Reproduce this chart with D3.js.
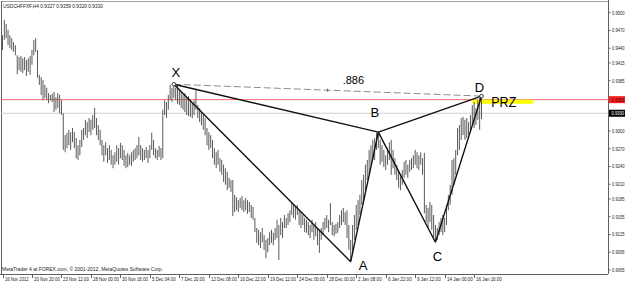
<!DOCTYPE html>
<meta charset="utf-8">
<script src="https://d3js.org/d3.v7.min.js"></script>
<style>
  body { margin: 0; background: white; }
  text { font-family: "Liberation Sans", Arial, sans-serif; }
  .tiny { font-size: 6px; fill: #222; }
</style>
<div id="main_chart"></div>
<script>
// H4 bars, high and low per bar
var highs = [
  0.9462,0.9488,0.9481,0.9471,0.9462,0.9457,0.9450,0.9445,0.9428,0.9425,
  0.9427,0.9423,0.9425,0.9420,0.9423,0.9427,0.9437,0.9454,0.9457,0.9437,
  0.9395,0.9391,0.9386,0.9378,0.9373,0.9364,0.9361,0.9363,0.9366,0.9357,
  0.9364,0.9361,0.9352,0.9330,0.9293,0.9297,0.9302,0.9298,0.9305,0.9298,
  0.9288,0.9276,0.9285,0.9302,0.9305,0.9319,0.9315,0.9322,0.9319,0.9327,
  0.9339,0.9322,0.9310,0.9302,0.9285,0.9276,0.9281,0.9271,0.9276,0.9268,
  0.9259,0.9264,0.9276,0.9271,0.9280,0.9276,0.9268,0.9259,0.9263,0.9259,
  0.9264,0.9268,0.9271,0.9276,0.9290,0.9276,0.9271,0.9268,0.9273,0.9268,
  0.9276,0.9297,0.9285,0.9271,0.9268,0.9275,0.9271,0.9336,0.9352,0.9349,
  0.9361,0.9378,0.9373,0.9379,0.9373,0.9376,0.9369,0.9366,0.9361,0.9364,
  0.9356,0.9359,0.9352,0.9347,0.9352,0.9369,0.9344,0.9339,0.9332,0.9327,
  0.9322,0.9305,0.9298,0.9293,0.9285,0.9271,0.9264,0.9268,0.9254,0.9251,
  0.9243,0.9237,0.9231,0.9221,0.9217,0.9217,0.9192,0.9188,0.9183,0.9187,
  0.9190,0.9183,0.9187,0.9183,0.9180,0.9175,0.9172,0.9153,0.9136,0.9133,
  0.9129,0.9136,0.9124,0.9116,0.9119,0.9129,0.9133,0.9128,0.9136,0.9150,
  0.9141,0.9153,0.9146,0.9158,0.9153,0.9161,0.9166,0.9178,0.9175,0.9172,
  0.9175,0.9166,0.9163,0.9158,0.9153,0.9150,0.9146,0.9141,0.9150,0.9141,
  0.9146,0.9136,0.9133,0.9136,0.9146,0.9153,0.9158,0.9150,0.9178,0.9146,
  0.9141,0.9143,0.9146,0.9158,0.9166,0.9170,0.9163,0.9166,0.9141,0.9116,
  0.9141,0.9158,0.9175,0.9183,0.9192,0.9217,0.9226,0.9243,0.9251,0.9268,
  0.9276,0.9285,0.9288,0.9297,0.9298,0.9285,0.9276,0.9268,0.9259,0.9271,
  0.9281,0.9285,0.9268,0.9254,0.9243,0.9231,0.9226,0.9234,0.9248,0.9251,
  0.9243,0.9251,0.9254,0.9259,0.9268,0.9264,0.9259,0.9264,0.9254,0.9263,
  0.9175,0.9170,0.9180,0.9175,0.9158,0.9141,0.9136,0.9146,0.9153,0.9158,
  0.9153,0.9175,0.9192,0.9209,0.9251,0.9254,0.9268,0.9305,0.9310,0.9322,
  0.9324,0.9319,0.9322,0.9315,0.9327,0.9344,0.9349,0.9339,0.9352,0.9356,
  0.9359
];
var lows = [
  0.9437,0.9454,0.9457,0.9445,0.9440,0.9437,0.9434,0.9428,0.9396,0.9403,
  0.9400,0.9398,0.9403,0.9393,0.9400,0.9395,0.9412,0.9428,0.9434,0.9390,
  0.9378,0.9361,0.9352,0.9356,0.9352,0.9347,0.9352,0.9349,0.9332,0.9336,
  0.9339,0.9330,0.9327,0.9268,0.9264,0.9271,0.9276,0.9268,0.9281,0.9271,
  0.9254,0.9251,0.9259,0.9273,0.9285,0.9293,0.9288,0.9298,0.9293,0.9302,
  0.9305,0.9293,0.9285,0.9276,0.9259,0.9248,0.9259,0.9246,0.9251,0.9243,
  0.9237,0.9243,0.9248,0.9243,0.9254,0.9251,0.9241,0.9237,0.9239,0.9243,
  0.9241,0.9248,0.9251,0.9254,0.9259,0.9251,0.9248,0.9251,0.9254,0.9246,
  0.9254,0.9268,0.9259,0.9254,0.9251,0.9256,0.9251,0.9254,0.9327,0.9322,
  0.9336,0.9352,0.9349,0.9356,0.9352,0.9346,0.9344,0.9339,0.9336,0.9332,
  0.9327,0.9325,0.9324,0.9322,0.9327,0.9336,0.9322,0.9315,0.9310,0.9302,
  0.9293,0.9276,0.9268,0.9271,0.9254,0.9243,0.9237,0.9243,0.9231,0.9226,
  0.9214,0.9209,0.9200,0.9204,0.9197,0.9156,0.9163,0.9166,0.9163,0.9170,
  0.9166,0.9163,0.9166,0.9160,0.9163,0.9153,0.9150,0.9129,0.9111,0.9107,
  0.9102,0.9112,0.9099,0.9085,0.9095,0.9107,0.9111,0.9107,0.9116,0.9119,
  0.9082,0.9124,0.9119,0.9136,0.9136,0.9141,0.9146,0.9158,0.9153,0.9150,
  0.9158,0.9141,0.9136,0.9141,0.9129,0.9128,0.9124,0.9119,0.9129,0.9116,
  0.9122,0.9107,0.9094,0.9116,0.9124,0.9133,0.9136,0.9129,0.9141,0.9124,
  0.9122,0.9126,0.9128,0.9136,0.9141,0.9146,0.9141,0.9119,0.9099,0.9079,
  0.9090,0.9116,0.9133,0.9141,0.9158,0.9175,0.9183,0.9200,0.9217,0.9226,
  0.9243,0.9251,0.9251,0.9268,0.9271,0.9243,0.9248,0.9239,0.9234,0.9243,
  0.9251,0.9226,0.9237,0.9226,0.9217,0.9204,0.9200,0.9209,0.9221,0.9226,
  0.9221,0.9231,0.9234,0.9237,0.9243,0.9237,0.9234,0.9243,0.9226,0.9161,
  0.9146,0.9136,0.9146,0.9133,0.9119,0.9112,0.9116,0.9124,0.9129,0.9124,
  0.9129,0.9141,0.9166,0.9175,0.9192,0.9209,0.9226,0.9259,0.9268,0.9285,
  0.9293,0.9285,0.9288,0.9293,0.9298,0.9310,0.9305,0.9310,0.9319,0.9302,
  0.9320
];

var dateLabels = ["16 Nov 2012", "20 Nov 20:00", "23 Nov 12:00", "28 Nov 00:00", "30 Nov 16:00",
  "5 Dec 04:00", "7 Dec 20:00", "12 Dec 08:00", "16 Dec 22:00", "19 Dec 12:00", "24 Dec 00:00",
  "28 Dec 00:00", "2 Jan 08:00", "6 Jan 22:00", "9 Jan 12:00", "14 Jan 00:00", "16 Jan 16:00"];
var barsPerLabel = 16;

var priceTicks = [0.9500, 0.9470, 0.9440, 0.9415, 0.9385, 0.9300, 0.9270, 0.9240,
  0.9210, 0.9185, 0.9155, 0.9125, 0.9095, 0.9065];

// harmonic pattern pivots
var pointNames = ["X", "A", "B", "C", "D"];
var pointBars = [93, 189, 204, 235, 260];
var pointSide = ["high", "low", "high", "low", "high"];
var ratioLabel = ".886";

var levelPrice = 0.9353;   // red horizontal line
var bidPrice = 0.9330;
var przBars = [255, 288];
var przPrices = [0.9353, 0.9346];

var title = "USDCHFFXF,H4  0.9327 0.9359 0.9320 0.9330";
var copyright = "MetaTrader 4 at FOREX.com, \u00a9 2001-2012, MetaQuotes Software Corp.";

var width = 625, height = 282;
var plotLeft = 1, plotRight = 608, plotTop = 1, plotBottom = 274;

var svg = d3.select("#main_chart")
  .append("svg")
    .attr("width", width)
    .attr("height", height);

var x = d3.scaleLinear()
  .domain([0, 260])
  .range([2.5, 481.5]);

var y = d3.scaleLinear()
  .domain([0.9065, 0.9500])
  .range([270, 12.7]);

// frame
svg.append("line")
  .attr("x1", plotLeft).attr("x2", plotRight)
  .attr("y1", plotTop + 0.5).attr("y2", plotTop + 0.5)
  .attr("stroke", "#a0a0a0");
svg.append("line")
  .attr("x1", plotLeft + 0.5).attr("x2", plotLeft + 0.5)
  .attr("y1", plotTop).attr("y2", plotBottom)
  .attr("stroke", "#606060");

// horizontal levels
svg.append("line")
  .attr("x1", plotLeft).attr("x2", plotRight)
  .attr("y1", y(bidPrice)).attr("y2", y(bidPrice))
  .attr("stroke", "#cfcfcf");
svg.append("line")
  .attr("x1", plotLeft).attr("x2", plotRight)
  .attr("y1", y(levelPrice)).attr("y2", y(levelPrice))
  .attr("stroke", "#ff6a6a");

// PRZ band
svg.append("rect")
  .attr("x", x(przBars[0]))
  .attr("y", y(przPrices[0]))
  .attr("width", x(przBars[1]) - x(przBars[0]))
  .attr("height", y(przPrices[1]) - y(przPrices[0]))
  .attr("fill", "#ffff00");

// bars
var bars = highs.map(function(h, i) { return {i: i, high: h, low: lows[i]}; });
svg.append("g")
  .selectAll("line")
  .data(bars)
  .enter()
  .append("line")
    .attr("x1", function(d) { return x(d.i); })
    .attr("x2", function(d) { return x(d.i); })
    .attr("y1", function(d) { return y(d.high); })
    .attr("y2", function(d) { return y(d.low); })
    .attr("stroke", "#5a5a5a")
    .attr("stroke-width", 1);

// pattern
var pts = pointBars.map(function(b, k) {
  return {name: pointNames[k], bar: b, price: pointSide[k] == "high" ? highs[b] : lows[b]};
});
var X = pts[0], A = pts[1], B = pts[2], C = pts[3], D = pts[4];

svg.append("line")
  .attr("x1", x(X.bar)).attr("y1", y(X.price))
  .attr("x2", x(D.bar)).attr("y2", y(D.price))
  .attr("stroke", "#8c8c8c")
  .attr("stroke-dasharray", "7,3");
svg.append("line")
  .attr("x1", x((X.bar + D.bar) / 2)).attr("x2", x((X.bar + D.bar) / 2))
  .attr("y1", y((X.price + D.price) / 2) - 1.5).attr("y2", y((X.price + D.price) / 2) + 1.5)
  .attr("stroke", "#555");
svg.append("text")
  .attr("x", x((X.bar + D.bar) / 2) + 15)
  .attr("y", y((X.price + D.price) / 2) - 6)
  .style("font-size", "11px")
  .text(ratioLabel);

var segs = [[X, A], [A, B], [B, C], [C, D], [X, B], [B, D]];
svg.append("g")
  .selectAll("line")
  .data(segs)
  .enter()
  .append("line")
    .attr("x1", function(d) { return x(d[0].bar); })
    .attr("y1", function(d) { return y(d[0].price); })
    .attr("x2", function(d) { return x(d[1].bar); })
    .attr("y2", function(d) { return y(d[1].price); })
    .attr("stroke", "#111")
    .attr("stroke-width", 1.4);

svg.selectAll(".endpt")
  .data([X, D])
  .enter()
  .append("circle")
    .attr("cx", function(d) { return x(d.bar); })
    .attr("cy", function(d) { return y(d.price); })
    .attr("r", 1.8)
    .attr("fill", "white")
    .attr("stroke", "#333");

var labelOffsets = {X: [2, -7], A: [12.5, 8.5], B: [-3.5, -15], C: [2, 18.5], D: [-2, -4]};
svg.selectAll(".plabel")
  .data(pts)
  .enter()
  .append("text")
    .attr("x", function(d) { return x(d.bar) + labelOffsets[d.name][0]; })
    .attr("y", function(d) { return y(d.price) + labelOffsets[d.name][1]; })
    .attr("text-anchor", "middle")
    .style("font-size", "13px")
    .text(function(d) { return d.name; });

svg.append("text")
  .attr("x", x(przBars[0]) + 19)
  .attr("y", y(przPrices[1]) + 3)
  .attr("textLength", 25)
  .attr("lengthAdjust", "spacingAndGlyphs")
  .style("font-size", "15px")
  .text("PRZ");

// price axis
svg.append("line")
  .attr("x1", plotRight + 0.5).attr("x2", plotRight + 0.5)
  .attr("y1", 0).attr("y2", plotBottom)
  .attr("stroke", "#606060");
var pt = svg.append("g").selectAll("g")
  .data(priceTicks)
  .enter()
  .append("g")
    .attr("transform", function(d) { return "translate(" + plotRight + "," + y(d) + ")"; });
pt.append("line").attr("x1", 0).attr("x2", 2.5).attr("stroke", "#606060");
pt.append("text")
  .attr("class", "tiny")
  .attr("x", 4)
  .attr("dy", "0.35em")
  .attr("textLength", 12.5)
  .attr("lengthAdjust", "spacingAndGlyphs")
  .style("font-size", "5.5px")
  .text(function(d) { return d.toFixed(4); });

var marks = [{p: levelPrice, bg: "#ff2020", fg: "#400000"}, {p: bidPrice, bg: "#000", fg: "#fff"}];
var mk = svg.append("g").selectAll("g")
  .data(marks)
  .enter()
  .append("g")
    .attr("transform", function(d) { return "translate(" + (plotRight + 1) + "," + y(d.p) + ")"; });
mk.append("rect")
  .attr("x", 0).attr("y", -3.5).attr("width", 16).attr("height", 7)
  .attr("fill", function(d) { return d.bg; });
mk.append("text")
  .attr("x", 2.5)
  .attr("dy", "0.35em")
  .attr("textLength", 12.5)
  .attr("lengthAdjust", "spacingAndGlyphs")
  .style("font-size", "5.5px")
  .attr("fill", function(d) { return d.fg; })
  .text(function(d) { return d.p.toFixed(4); });

// time axis
svg.append("line")
  .attr("x1", 0).attr("x2", plotRight)
  .attr("y1", plotBottom + 0.5).attr("y2", plotBottom + 0.5)
  .attr("stroke", "#606060");
var tt = svg.append("g").selectAll("g")
  .data(dateLabels)
  .enter()
  .append("g")
    .attr("transform", function(d, k) { return "translate(" + Math.round(x(k * barsPerLabel)) + "," + plotBottom + ")"; });
tt.append("line").attr("x1", 0.5).attr("x2", 0.5).attr("y1", 0).attr("y2", 4).attr("stroke", "#606060");
tt.append("text")
  .attr("class", "tiny")
  .attr("x", 2)
  .attr("y", 6.5)
  .attr("textLength", function(d) { return d.length * 2.15; })
  .attr("lengthAdjust", "spacingAndGlyphs")
  .style("font-size", "5.5px")
  .text(function(d) { return d; });

svg.append("text")
  .attr("class", "tiny")
  .attr("x", 2)
  .attr("y", 271)
  .attr("textLength", 161)
  .attr("lengthAdjust", "spacingAndGlyphs")
  .text(copyright);

svg.append("text")
  .attr("class", "tiny")
  .attr("x", 3)
  .attr("y", 8)
  .attr("textLength", 100)
  .attr("lengthAdjust", "spacingAndGlyphs")
  .text(title);
</script>
